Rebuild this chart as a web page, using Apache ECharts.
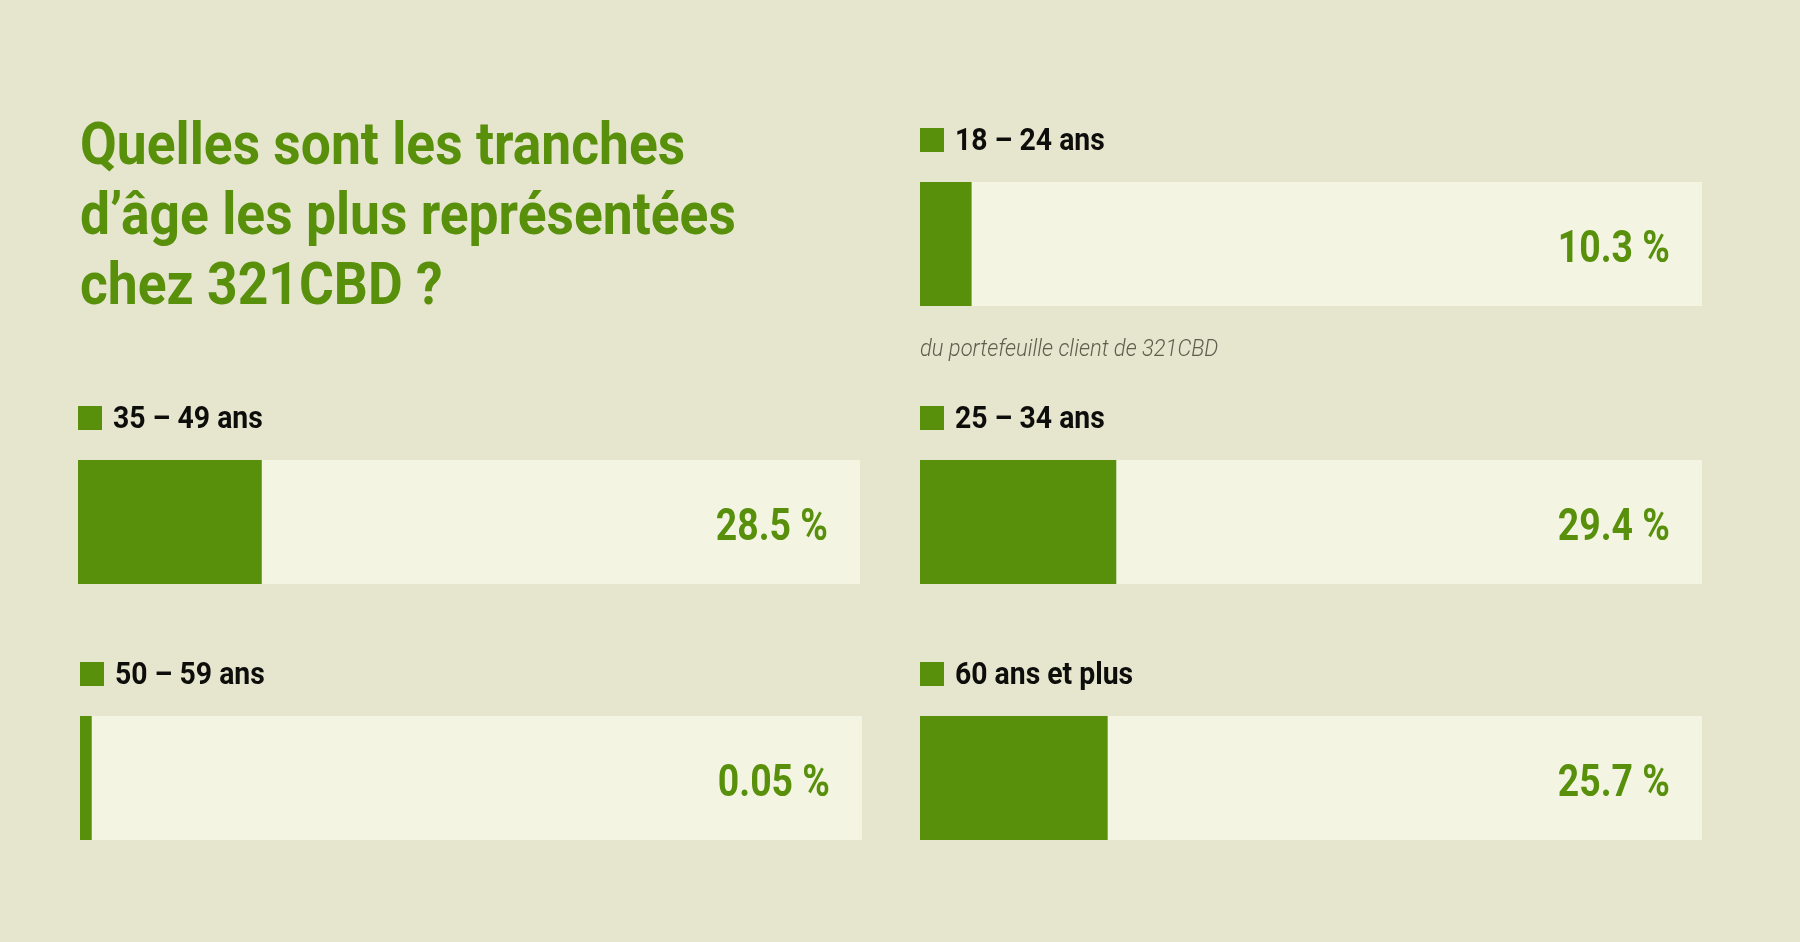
<!DOCTYPE html>
<html>
<head>
<meta charset="utf-8">
<script src="https://cdn.jsdelivr.net/npm/echarts@6/dist/echarts.min.js"></script>
<style>
html,body{margin:0;padding:0;background:#e6e6ce;}
#c{width:1800px;height:942px;}
</style>
</head>
<body>
<div id="c"></div>
<script>
// ---- data ----
const titleLines = ["Quelles sont les tranches", "d’âge les plus représentées", "chez 321CBD ?"];
const categories = ["18 – 24 ans", "35 – 49 ans", "25 – 34 ans", "50 – 59 ans", "60 ans et plus"];
const shareValues = [10.3, 28.5, 29.4, 0.05, 25.7];          // printed percentages
const barFill = [6.6, 23.5, 25.1, 1.5, 24.0];                // filled share of each track as drawn (% of track)
const trackMax = 100;
const subtitle = "du portefeuille client de 321CBD";

// ---- styles / layout ----
const GREEN = '#588f0b';
const TRACK = '#f3f5e2';
const BG = '#e6e6ce';
const FONT = 'Roboto';
const panels = [[920, 182], [78, 460], [920, 460], [80, 716], [920, 716]];
const TRACK_W = 782, TRACK_H = 124;

const chart = echarts.init(document.getElementById('c'), null, {renderer: 'canvas'});

const grid = [], xAxis = [], yAxis = [], series = [];
categories.forEach((c, i) => {
  grid.push({left: panels[i][0], top: panels[i][1], width: TRACK_W, height: TRACK_H});
  xAxis.push({type: 'value', gridIndex: i, min: 0, max: trackMax, show: false});
  yAxis.push({type: 'category', gridIndex: i, data: [c], show: false});
  series.push({
    type: 'bar', name: c, xAxisIndex: i, yAxisIndex: i, data: [barFill[i]],
    barWidth: '100%', showBackground: true,
    backgroundStyle: {color: TRACK},
    itemStyle: {color: GREEN}, silent: true
  });
});

chart.setOption({backgroundColor: BG, animation: false, grid, xAxis, yAxis, series});

const g = [];
// title
titleLines.forEach((t, k) => {
  g.push({type: 'text', z: 100, x: 80, y: 149 + 70 * k, scaleX: 0.89, silent: true,
    style: {text: t, fill: GREEN, fontFamily: FONT, fontWeight: 'bold', fontSize: 60,
      align: 'left', verticalAlign: 'middle'}});
});
// legend markers + labels, value labels
categories.forEach((c, i) => {
  const px = panels[i][0], py = panels[i][1];
  g.push({type: 'rect', z: 100, silent: true, shape: {x: px, y: py - 54, width: 24, height: 24}, style: {fill: GREEN}});
  g.push({type: 'text', z: 100, x: px + 35, y: py - 40, scaleX: 0.915, silent: true,
    style: {text: c, fill: '#0d0d0b', fontFamily: FONT, fontWeight: 'bold', fontSize: 31,
      align: 'left', verticalAlign: 'middle'}});
  const end = chart.convertToPixel({gridIndex: i}, [trackMax, c]);
  g.push({type: 'text', z: 100, x: end[0] - 32, y: end[1] + 7, scaleX: 0.85, silent: true,
    style: {text: shareValues[i] + ' %', fill: GREEN, fontFamily: FONT, fontWeight: 'bold', fontSize: 44,
      align: 'right', verticalAlign: 'middle'}});
});
// note under first panel
g.push({type: 'text', z: 100, x: 920, y: 350, scaleX: 0.955, silent: true,
  style: {text: subtitle, fill: '#5c5f4c', fontFamily: FONT, fontStyle: 'italic', fontWeight: 300, fontSize: 23,
    align: 'left', verticalAlign: 'middle'}});

chart.setOption({graphic: {elements: g}});
</script>
</body>
</html>
